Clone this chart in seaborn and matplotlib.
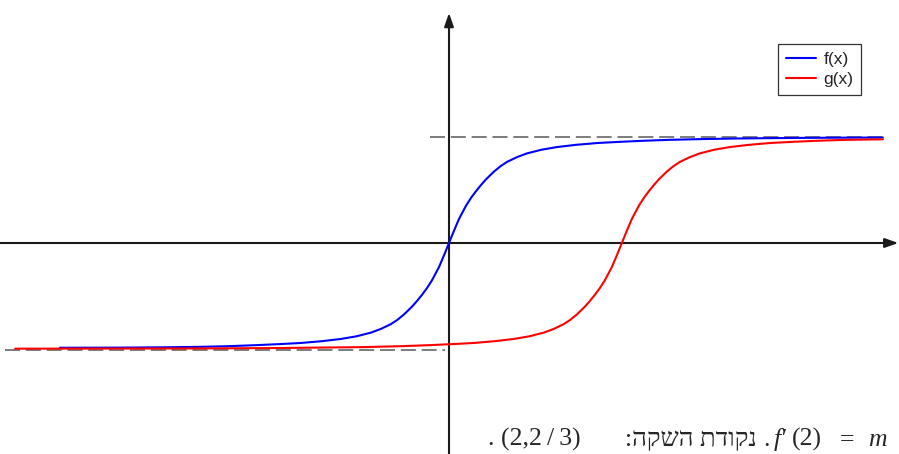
import numpy as np
import pandas as pd
import seaborn as sns
import matplotlib.pyplot as plt

# values (x axis unit ~ 43 px, y axis unit ~ 106 px)
f_x = [-9.05, -7.67, -6.7, -5.84, -5.1, -4.44, -3.9, -3.44, -2.95, -2.51, -2.15, -1.81,
       -1.58, -1.35, -1.2, -1.05, -0.96, -0.86, -0.75, -0.63, -0.52, -0.4, -0.23, -0.1,
       0.0, 0.1, 0.23, 0.4, 0.52, 0.63, 0.75, 0.86, 0.96, 1.05, 1.2, 1.35, 1.58, 1.81,
       2.15, 2.51, 2.95, 3.44, 3.9, 4.44, 5.1, 5.84, 6.7, 7.67, 8.8, 10.09]
f_y = [-0.988, -0.987, -0.984, -0.980, -0.973, -0.963, -0.953, -0.943, -0.926, -0.905,
       -0.88, -0.845, -0.81, -0.765, -0.725, -0.675, -0.64, -0.60, -0.55, -0.49, -0.43,
       -0.355, -0.225, -0.10, 0.0, 0.10, 0.225, 0.355, 0.43, 0.49, 0.55, 0.60, 0.64,
       0.675, 0.725, 0.765, 0.81, 0.845, 0.88, 0.905, 0.926, 0.943, 0.953, 0.963, 0.973,
       0.980, 0.986, 0.990, 0.993, 0.995]

g_x = [-10.09, -5.98, -3.98, -1.98, -1.08, -0.42, 0.12, 0.58, 1.07, 1.51, 1.87, 2.21,
       2.44, 2.67, 2.82, 2.97, 3.06, 3.16, 3.27, 3.39, 3.50, 3.62, 3.79, 3.92, 4.02,
       4.12, 4.25, 4.42, 4.54, 4.65, 4.77, 4.88, 4.98, 5.07, 5.22, 5.37, 5.60, 5.83,
       6.17, 6.53, 6.97, 7.46, 7.92, 8.46, 9.12, 9.86, 10.09]
g_y = [-0.997, -0.995, -0.991, -0.982, -0.973, -0.963, -0.953, -0.943, -0.926, -0.905,
       -0.88, -0.845, -0.81, -0.765, -0.725, -0.675, -0.64, -0.60, -0.55, -0.49, -0.43,
       -0.355, -0.225, -0.10, 0.0, 0.10, 0.225, 0.355, 0.43, 0.49, 0.55, 0.60, 0.64,
       0.675, 0.725, 0.765, 0.81, 0.845, 0.88, 0.905, 0.926, 0.943, 0.953, 0.963, 0.972,
       0.977, 0.978]

upper_asym = 1.003
lower_asym = -1.014
upper_dash_x = [-0.44, 10.09]
lower_dash_x = [-10.33, -0.09]

labels = ['f(x)', 'g(x)']
colors = {'f(x)': '#0000ff', 'g(x)': '#ff0000'}

df = pd.concat([
    pd.DataFrame({'x': f_x, 'y': f_y, 'curve': labels[0]}),
    pd.DataFrame({'x': g_x, 'y': g_y, 'curve': labels[1]}),
], ignore_index=True)

sns.set_style('white')
plt.rcParams['font.family'] = ['Liberation Sans', 'DejaVu Sans']

fig = plt.figure(figsize=(8.99, 4.54), dpi=100)
ax = fig.add_axes([0, 0, 1, 1])
ax.set_xlim(-449 / 43, 450 / 43)
ax.set_ylim(-211 / 106, 243 / 106)
ax.set_axis_off()

# dashed asymptotes
ax.plot(upper_dash_x, [upper_asym, upper_asym], color='#666666', lw=1.2, ls=(0, (9, 3.5)), zorder=1)
ax.plot(lower_dash_x, [lower_asym, lower_asym], color='#666666', lw=1.2, ls=(0, (9, 3.5)), zorder=1)

# axes with arrows
ap = dict(arrowstyle='-|>,head_length=0.8,head_width=0.28', lw=1.5, color='#1a1a1a',
          shrinkA=0, shrinkB=0)
ax.annotate('', xy=(10.45, 0), xytext=(-10.5, 0), arrowprops=ap, zorder=2)
ax.annotate('', xy=(0, 2.17), xytext=(0, -2.1), arrowprops=ap, zorder=2)

sns.lineplot(data=df, x='x', y='y', hue='curve', palette=colors, sort=False,
             estimator=None, lw=1.5, ax=ax, zorder=3)

h, l = ax.get_legend_handles_labels()
leg = ax.legend(h, l, loc='upper left', bbox_to_anchor=(778 / 899, 1 - 44 / 454),
                frameon=True, fancybox=False, edgecolor='black', fontsize=12.5,
                handlelength=1.75, handletextpad=0.42, labelspacing=0.28,
                borderpad=0.45, borderaxespad=0)
leg.get_frame().set_linewidth(0.9)
for ln in leg.get_lines():
    ln.set_linewidth(1.5)

# text at the bottom (Hebrew written in visual order)
base = 1 - 446 / 454
serif = ['Liberation Serif', 'DejaVu Serif']
fs = 18.5
fig.text(488 / 899, base, '. (2,2\u2009/\u20093)', fontsize=fs, family=serif, va='baseline')
fig.text(757 / 899, base, ':הקשה תדוקנ', fontsize=fs, family=serif, va='baseline', ha='right')
fig.text(763 / 899, base, '.', fontsize=fs, family=serif, va='baseline')
fig.text(774 / 899, base, 'f\u2032', fontsize=fs, family=serif, style='italic', va='baseline')
fig.text(792 / 899, base, '(2)', fontsize=fs, family=serif, va='baseline')
fig.text(840 / 899, base, '=', fontsize=fs, family=serif, va='baseline')
fig.text(868 / 899, base, 'm', fontsize=fs, family=serif, style='italic', va='baseline')

fig.savefig('out.png', dpi=100)
